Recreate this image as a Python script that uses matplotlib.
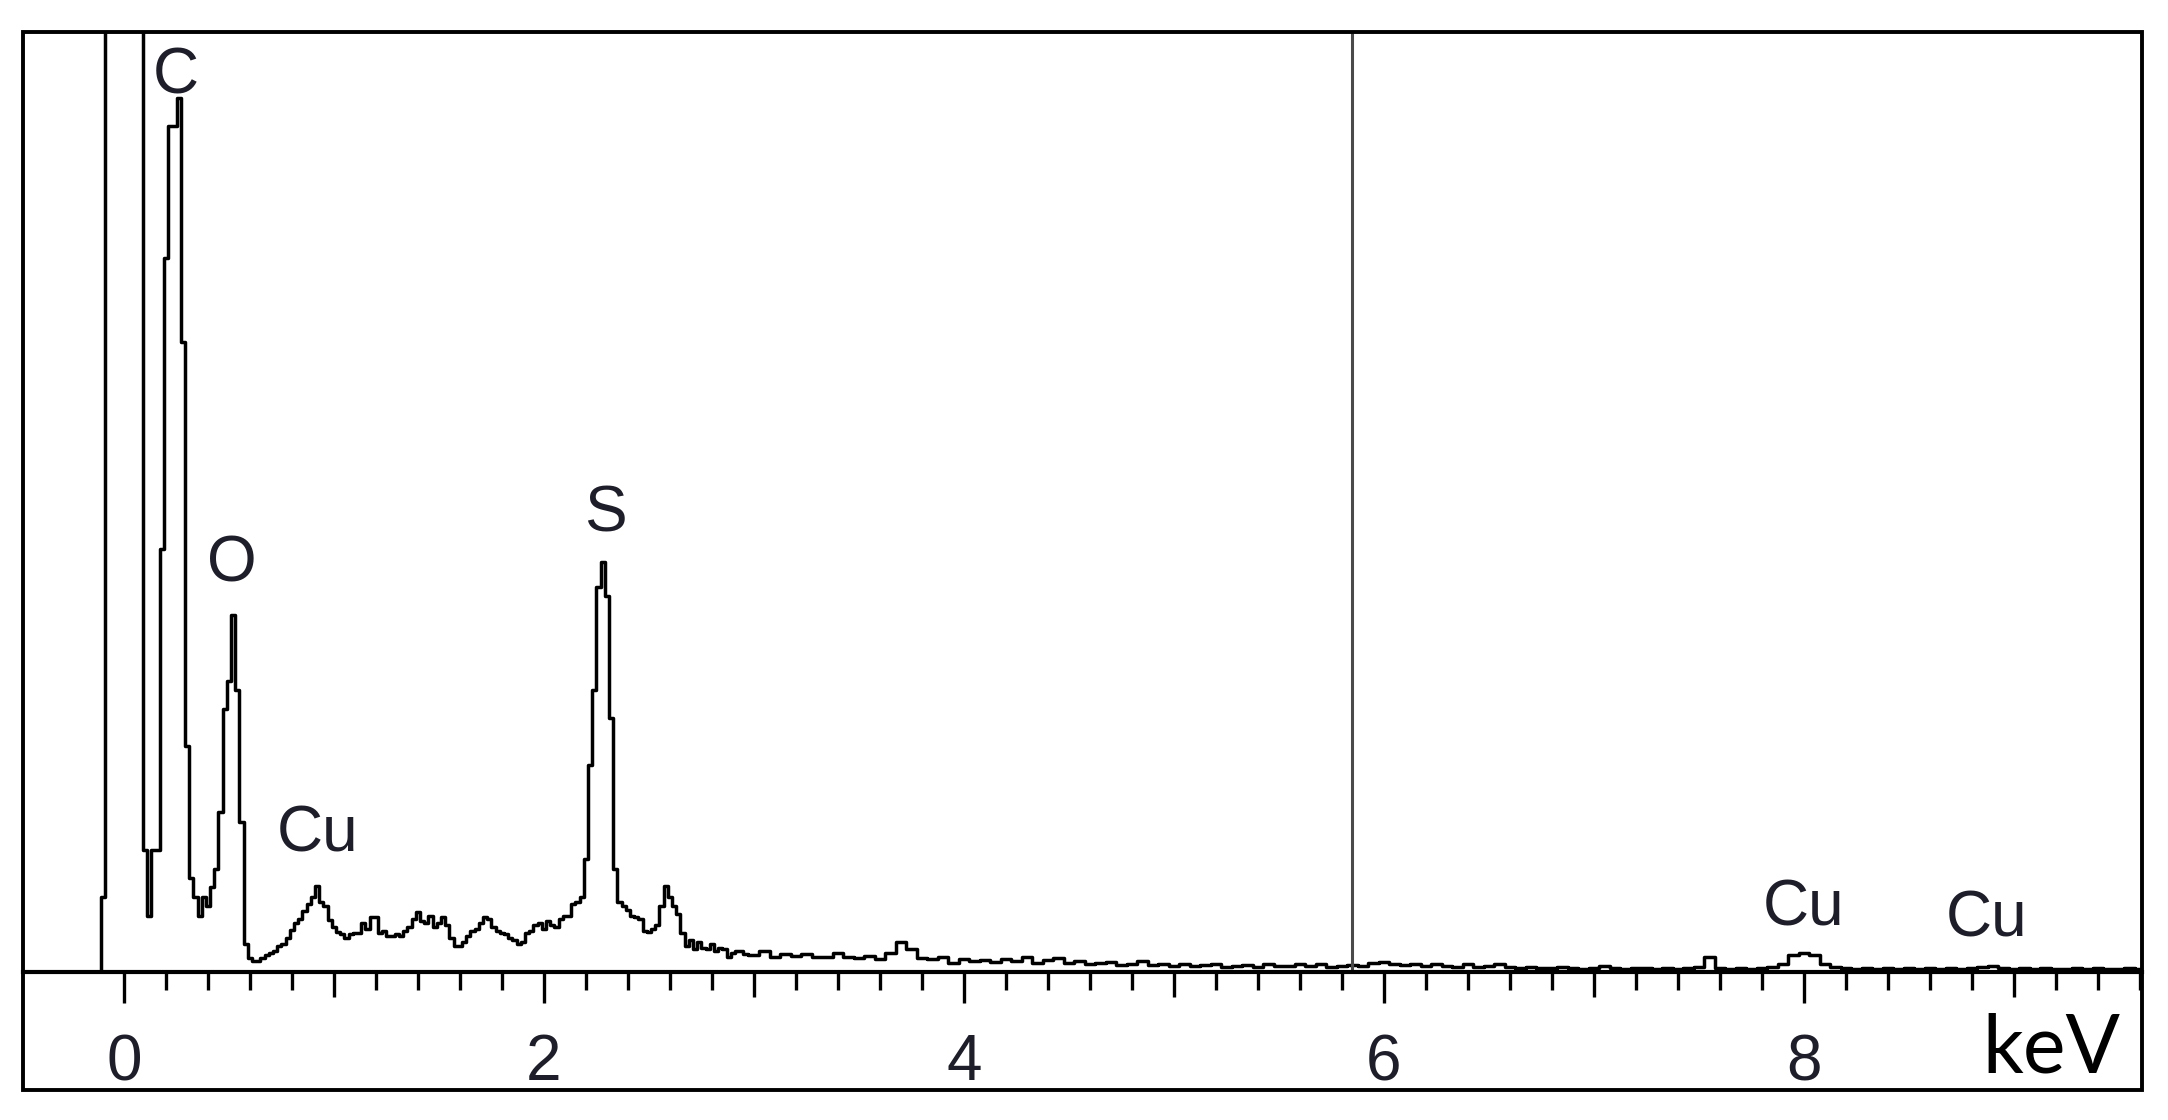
import numpy as np
import matplotlib
matplotlib.use("Agg")
import matplotlib.pyplot as plt
from matplotlib.patches import Rectangle

# EDS spectrum, counts (off-scale peak clipped at 130)
e_start_lo = -0.12
e_step_lo = 0.02
counts_lo = [
    0, 8, 130, 130, 130, 130, 130, 130, 130, 130,
    130, 13, 6, 13, 13, 45, 76, 90, 90, 93,
    67, 24, 10, 8, 6, 8, 7, 9, 11, 17,
    28, 31, 38, 30, 16, 3, 1.5, 1.2, 1.2, 1.5,
    1.8, 2.0, 2.2, 2.8, 3.0, 3.6, 4.5, 5.2, 5.6, 6.5,
    7.2, 8.0, 9.2, 7.5, 7.0, 5.5, 4.8, 4.3, 4.0, 3.6,
    4.0, 4.2, 4.2, 5.2, 4.6, 5.8, 5.8, 4.2, 4.4, 3.8,
    3.8, 4.0, 3.8, 4.4, 4.8, 5.6, 6.4, 5.4, 5.2, 6.0,
    4.8, 5.2, 5.8, 5.0, 3.6, 2.8, 2.8, 3.2, 3.8, 4.4,
    4.6, 5.2, 5.8, 5.6, 4.8, 4.4, 4.2, 4.0, 3.6, 3.4,
    3.0, 3.2, 4.2, 4.4, 5.0, 5.2, 4.6, 5.4, 5.0, 4.8,
    5.6, 6.0, 6.0, 7.2, 7.4, 8.0, 12, 22, 30, 41,
    43.6, 40, 27, 11, 7.5, 7.0, 6.6, 6.0, 5.8, 5.6,
    4.4, 4.3, 4.6, 5.0, 7.0, 9.2, 8.0, 7.0, 6.2, 4.2,
    2.8, 3.4, 2.4, 3.2, 2.6, 2.4, 3.0, 2.2, 2.6, 2.4,
    1.6, 2.0, 2.2, 2.2, 1.9, 1.8,
]
e_start_hi = 3.0
e_step_hi = 0.05
counts_hi = [
    1.8, 2.2, 1.6, 1.9, 1.7, 1.9, 1.6, 1.6, 2.0, 1.6,
    1.5, 1.7, 1.4, 2.0, 3.2, 2.4, 1.5, 1.4, 1.6, 1.0,
    1.4, 1.2, 1.3, 1.1, 1.4, 1.2, 1.6, 1.0, 1.3, 1.5,
    1.0, 1.2, 0.8, 1.0, 1.1, 0.7, 0.9, 1.2, 0.7, 0.8,
    0.6, 0.8, 0.6, 0.7, 0.9, 0.5, 0.6, 0.7, 0.5, 0.8,
    0.6, 0.6, 0.9, 0.6, 0.8, 0.5, 0.6, 0.7, 0.6, 1.0,
    1.1, 0.8, 0.7, 0.8, 0.6, 0.9, 0.6, 0.5, 0.8, 0.5,
    0.6, 0.9, 0.5, 0.4, 0.5, 0.4, 0.4, 0.5, 0.4, 0.3,
    0.4, 0.6, 0.4, 0.3, 0.4, 0.4, 0.3, 0.4, 0.3, 0.4,
    0.5, 1.6, 0.4, 0.3, 0.4, 0.3, 0.4, 0.5, 0.9, 1.8,
    2.0, 1.8, 0.8, 0.5, 0.4, 0.3, 0.4, 0.3, 0.4, 0.3,
    0.4, 0.3, 0.4, 0.3, 0.4, 0.3, 0.4, 0.5, 0.6, 0.4,
    0.3, 0.4, 0.3, 0.4, 0.3, 0.3, 0.4, 0.3, 0.4, 0.3,
    0.3, 0.4, 0.3,
]

peak_labels = ["C", "O", "S", "Cu", "Cu", "Cu"]
label_energy = [0.245, 0.515, 2.29, 0.92, 8.0, 8.87]
label_height = [95.3, 43.4, 48.7, 14.6, 6.8, 5.6]

marker_energy = 5.85
tick_labels = ["0", "2", "4", "6", "8"]

e_lo = e_start_lo + e_step_lo * np.arange(len(counts_lo))
e_hi = e_start_hi + e_step_hi * np.arange(len(counts_hi))
energy = np.concatenate([e_lo, e_hi])
counts = np.array(counts_lo + counts_hi)

W, H = 2168, 1120
fig = plt.figure(figsize=(W / 100, H / 100), dpi=100)
fig.patch.set_facecolor("white")

# axes: bottom spine is the energy baseline
ax = fig.add_axes([23 / W, (H - 972) / H, (2142 - 23) / W, (972 - 32) / H])
ax.plot(energy, counts, drawstyle="steps-mid", color="black", lw=2.5)
ax.axvline(marker_energy, color="#4a4a4a", lw=2.2)

ax.set_xlim(-0.481, 9.61)
ax.set_ylim(0, 100)
for s in ["left", "right", "top"]:
    ax.spines[s].set_visible(False)
ax.spines["bottom"].set_linewidth(3.0)
ax.set_yticks([])

ax.set_xticks(np.arange(0, 10))
ax.set_xticklabels([tick_labels[i // 2] if i % 2 == 0 else "" for i in range(10)])
ax.set_xticks(np.arange(0.2, 9.61, 0.2), minor=True)
ax.tick_params(axis="x", which="major", direction="out", length=18, width=2.4,
               pad=26, labelsize=46, labelcolor="#1e1e2a")
ax.tick_params(axis="x", which="minor", direction="out", length=13, width=2.4)
for i, t in enumerate(ax.xaxis.get_major_ticks()):
    if i % 2 == 0:
        t.tick1line.set_markersize(22)
for lab in ax.get_xticklabels():
    lab.set_family("Liberation Sans")

for name, x, y in zip(peak_labels, label_energy, label_height):
    ax.text(x, y, name, ha="center", va="center", fontsize=46,
            family="Liberation Sans", color="#1e1e2a")

ax.text(0.99, -0.082, "keV", transform=ax.transAxes, ha="right", va="center",
        fontsize=58, family="Lato", color="black")

# outer frame
fig.patches.append(Rectangle((23 / W, (H - 1090) / H), (2142 - 23) / W, (1090 - 32) / H,
                             transform=fig.transFigure, fill=False, lw=2.8,
                             edgecolor="black", zorder=5))

fig.savefig("out.png", dpi=100, facecolor="white")
